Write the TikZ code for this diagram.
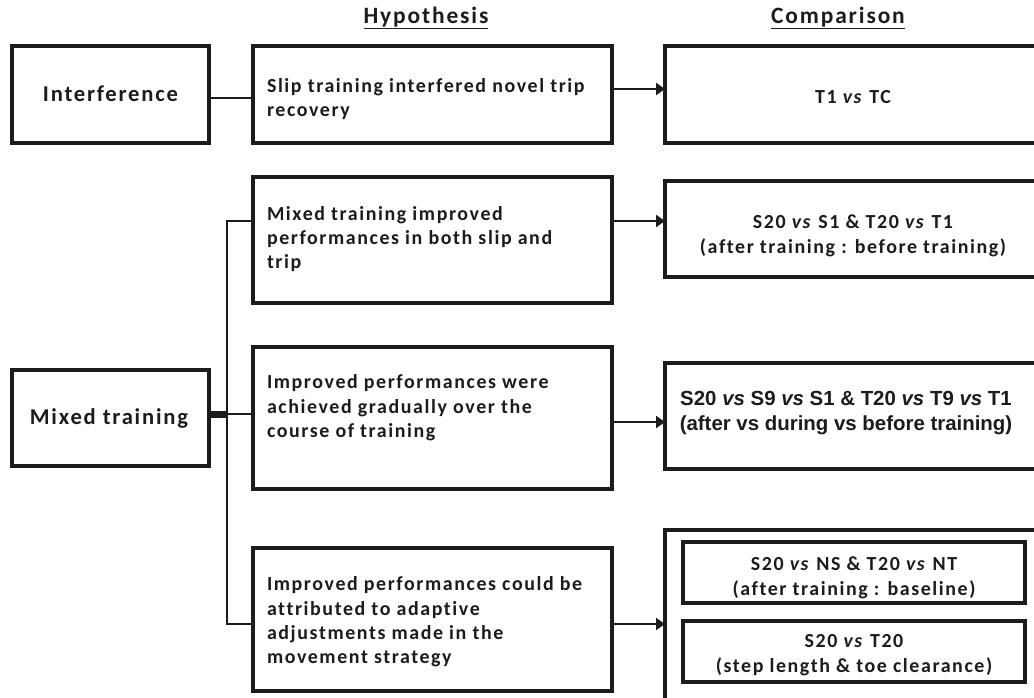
\documentclass[tikz,border=0pt]{standalone}
\usepackage{fontspec}
\setmainfont{Carlito}[LetterSpace=8,Ligatures=NoCommon]
\newfontfamily\arialb{Liberation Sans}
\usetikzlibrary{arrows.meta}
\definecolor{ink}{HTML}{1C1C1C}
\begin{document}
\begin{tikzpicture}[x=1bp,y=-1bp,
  every node/.style={text=ink, font=\fontsize{20}{24.5}\selectfont\bfseries},
  box/.style={draw=ink, line width=3.2bp, inner sep=0pt, outer sep=0pt},
  txt/.style={inner sep=0pt, outer sep=0pt, align=left},
  ctxt/.style={inner sep=0pt, outer sep=0pt, align=center},
  big/.style={font=\fontsize{22.7}{27}\selectfont\bfseries},
  head/.style={font=\fontsize{23.5}{27}\selectfont\bfseries},
  conn/.style={draw=ink, line width=2.6bp},
  thickconn/.style={draw=ink, line width=7bp},
  arr/.style={draw=ink, line width=2.6bp, -{Triangle[length=9bp,width=12bp]}}]
\clip (0,0) rectangle (1034,698);
\fill[white] (0,0) rectangle (1034,698);

% headers
\node[ctxt, head] (hhead) at (426,18) {\underline{Hypothesis}};
\node[ctxt, head] (chead) at (838,18) {\underline{Comparison}};

% left boxes
\node[box, minimum width=197bp, minimum height=97bp] (intf) at (110.5,94.5) {};
\node[box, minimum width=197bp, minimum height=96bp] (mixed) at (110.5,418) {};
\node[ctxt, big] (tintf) at (110.5,94) {Interference};
\node[ctxt, big] (tmixed) at (109,418) {Mixed training};

% hypothesis boxes
\node[box, minimum width=359bp, minimum height=97bp] (h1) at (432.5,94.5) {};
\node[box, minimum width=359bp, minimum height=126bp] (h2) at (432.5,240) {};
\node[box, minimum width=359bp, minimum height=142bp] (h3) at (432.5,418) {};
\node[box, minimum width=359bp, minimum height=143bp] (h4) at (432.5,619.5) {};
\node[txt, anchor=west] (th1) at (267,99) {Slip training interfered novel trip\\recovery};
\node[txt, anchor=west] (th2) at (267,239) {Mixed training improved\\performances in both slip and\\trip};
\node[txt, anchor=west] (th3) at (267,408) {Improved performances were\\achieved gradually over the\\course of training};
\node[txt, anchor=west] (th4) at (267,622) {Improved performances could be\\attributed to adaptive\\adjustments made in the\\movement strategy};

% comparison boxes
\node[box, minimum width=380bp, minimum height=97bp] (c1) at (855,94.5) {};
\node[box, minimum width=380bp, minimum height=96bp] (c2) at (855,229) {};
\node[box, minimum width=380bp, minimum height=106bp] (c3) at (855,416) {};
\node[box, minimum width=380bp, minimum height=180bp] (c4) at (855,620) {};
\node[box, minimum width=342bp, minimum height=61bp] (c4a) at (854,572.5) {};
\node[box, minimum width=342bp, minimum height=61bp] (c4b) at (854,651.5) {};
\node[ctxt] (tc1) at (853,97) {T1 \textit{vs} TC};
\node[ctxt] (tc2) at (853,236) {S20 \textit{vs} S1 \& T20 \textit{vs} T1\\(after training : before training)};
\node[ctxt, font=\arialb\fontsize{20.5}{25}\selectfont\bfseries] (tc3) at (846,413) {S20 \textit{vs} S9 \textit{vs} S1 \& T20 \textit{vs} T9 \textit{vs} T1\\(after vs during vs before training)};
\node[ctxt] (tc4a) at (854,578) {S20 \textit{vs} NS \& T20 \textit{vs} NT\\(after training : baseline)};
\node[ctxt] (tc4b) at (854,655) {S20 \textit{vs} T20\\(step length \& toe clearance)};

% rows
\coordinate (r0) at (0,98);
\coordinate (r1) at (0,89);
\coordinate (b2) at (0,221);
\coordinate (b3) at (0,414);
\coordinate (b3a) at (0,422);
\coordinate (b4) at (0,624);
\coordinate (tr) at (227,0);

% connectors
\draw[conn] (intf.east |- r0) -- (h1.west |- r0);
\draw[arr] (h1.east |- r1) -- (c1.west |- r1);
\draw[thickconn] (mixed.east |- b3) -- (tr |- b3);
\draw[conn] (h2.west |- b2) -- (tr |- b2) -- (tr |- b4) -- (h4.west |- b4);
\draw[conn] (tr |- b3) -- (h3.west |- b3);
\draw[arr] (h2.east |- b2) -- (c2.west |- b2);
\draw[arr] (h3.east |- b3a) -- (c3.west |- b3a);
\draw[arr] (h4.east |- b4) -- (c4.west |- b4);
\end{tikzpicture}
\end{document}
